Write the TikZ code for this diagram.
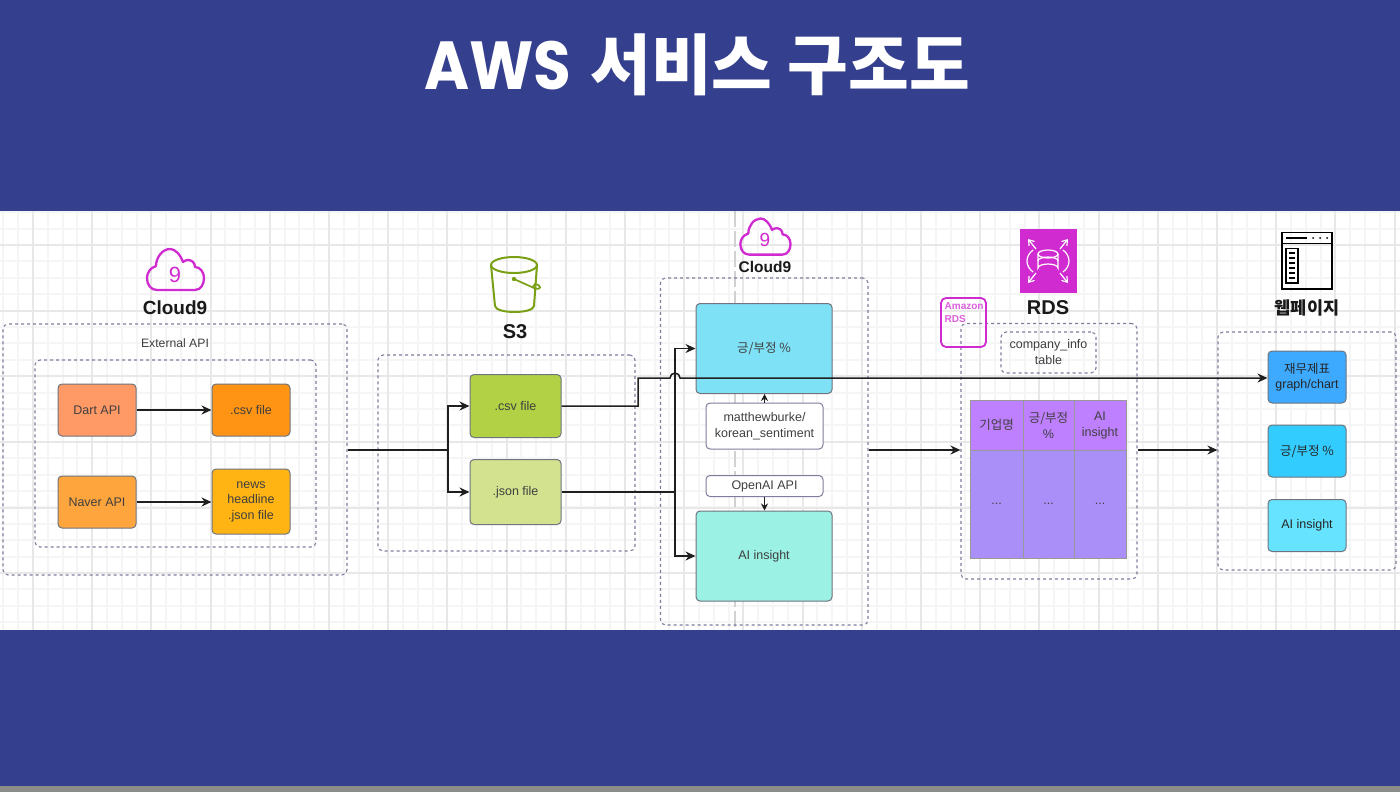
\documentclass[tikz,border=0pt]{standalone}
\usepackage{fontspec}
\setmainfont{Liberation Sans}
\newfontfamily\krfont{Noto Sans CJK KR}
\newfontfamily\headfont[FakeStretch=0.9]{Poppins}
\newfontfamily\headkr{Noto Sans CJK KR Black}
\usepackage{xcolor}
\definecolor{mband}{HTML}{343F8E}
\definecolor{mfoot}{HTML}{8C8C88}
\definecolor{mdash}{HTML}{7E7E9E}
\definecolor{medge}{HTML}{6F747E}
\definecolor{mtext}{HTML}{3F3F3F}
\definecolor{mpink}{HTML}{D02BD0}
\definecolor{mgreen}{HTML}{7AA116}
\definecolor{mhead}{RGB}{191,128,255}
\definecolor{mbody}{RGB}{171,143,248}
\usetikzlibrary{arrows.meta}
\tikzset{
    group/.style={draw=mdash, dashed, line width=1.1pt, rounded corners=5pt, inner sep=0pt},
    filebox/.style={draw=medge, line width=1pt, rounded corners=4pt, inner sep=0pt, align=center,
        text=mtext, font=\fontsize{12.5}{15.5}\selectfont},
    smallbox/.style={filebox, fill=white, draw=mdash},
    cell/.style={draw=black!40, line width=1pt, inner sep=0pt, align=center, text=mtext,
        font=\fontsize{12.5}{16}\selectfont},
    title/.style={text=black!90, font=\fontsize{19}{24}\selectfont\bfseries},
    flow/.style={draw=black!88, line width=1.5pt, -{Stealth[length=10pt,width=9pt]}},
    wire/.style={draw=black!88, line width=1.5pt},
    cloudicon/.pic={
        \draw[mpink, line width=2.3pt, line join=round] (-18,20) -- (20,20)
            .. controls (26,20) and (29,14) .. (29,8) .. controls (29,2) and (25,-3) .. (20,-3)
            .. controls (20,-8) and (16,-10) .. (13,-10) .. controls (11,-10) and (9,-9) .. (8,-8)
            .. controls (5,-16) and (0,-21) .. (-5,-21) .. controls (-13,-21) and (-19,-12) .. (-19,-4)
            .. controls (-25,-2) and (-28,3) .. (-28,8) .. controls (-28,15) and (-24,20) .. (-18,20) -- cycle;
    },
}
\begin{document}
\begin{tikzpicture}[x=1pt, y=-1pt]
            \useasboundingbox (0, 0) rectangle (1400, 792);

            % bands
            \fill[mband] (0, 0) rectangle (1400, 792);
            \fill[mfoot] (0, 786) rectangle (1400, 792);
            \fill[white] (0, 211) rectangle (1400, 630);
            \node[text=white, inner sep=0pt] (heading) at (697, 65) {\fontsize{68}{72}\selectfont{\headfont\bfseries AWS} \headkr\fontsize{66}{72}\selectfont 서비스 구조도};

            % grid
            \begin{scope}
                \clip (0, 211) rectangle (1400, 630);
                \foreach \i [evaluate=\i as \gx using {round(-11.4+14.8*\i)}] in {0,...,95}
                    \draw[black!4, line width=2pt] (\gx, 211) -- (\gx, 630);
                \foreach \i [evaluate=\i as \gy using {round(212.2+16.4*\i)}] in {0,...,26}
                    \draw[black!4, line width=2pt] (0, \gy) -- (1400, \gy);
                \foreach \i [evaluate=\i as \gx using {round(33+59.2*\i)}] in {0,...,23}
                    \draw[black!9, line width=2pt] (\gx, 211) -- (\gx, 630);
                \foreach \i [evaluate=\i as \gy using {round(245+65.7*\i)}] in {0,...,6}
                    \draw[black!9, line width=2pt] (0, \gy) -- (1400, \gy);
            \end{scope}
            \draw[black!18, line width=1.5pt, dash pattern=on 16pt off 4pt] (735, 211) -- (735, 630);

            % cloud9 column
            \pic at (175, 270) {cloudicon};
            \node[text=mpink, font=\fontsize{22}{24}\selectfont] (nineA) at (175, 275) {9};
            \node[title] (cloudA) at (175, 308) {Cloud9};
            \node[group, minimum width=344pt, minimum height=251pt] (extbox) at (175, 449.5) {};
            \node[group, minimum width=281pt, minimum height=187pt] (apibox) at (175.5, 453.5) {};
            \node[text=mtext, font=\fontsize{12.2}{15}\selectfont] (extlabel) at (175, 343) {External API};
            \node[filebox, fill={rgb,255:red,255;green,153;blue,102}, minimum width=78pt, minimum height=52pt] (dart) at (97, 410) {Dart API};
            \node[filebox, fill={rgb,255:red,255;green,148;blue,20}, minimum width=78pt, minimum height=52pt] (csvout) at (251, 410) {.csv file};
            \node[filebox, fill={rgb,255:red,255;green,165;blue,61}, minimum width=78pt, minimum height=52pt] (naver) at (97, 502) {Naver API};
            \node[filebox, fill={rgb,255:red,255;green,180;blue,20}, minimum width=78pt, minimum height=65pt] (newsout) at (251, 501.5) {news\\headline\\.json file};

            % s3 column
            \draw[mgreen, line width=2pt] (491, 265) arc[start angle=180, end angle=540, x radius=23, y radius=8];
            \draw[mgreen, line width=2pt] (491, 265) -- (495, 306) .. controls (496, 314) and (533, 314) .. (534, 306) -- (537, 265);
            \draw[mgreen, line width=1.7pt] (514, 279) -- (534, 288) .. controls (542, 291) and (542, 285) .. (535, 284) -- (532, 288);
            \fill[mgreen] (514, 279) circle[radius=2.2];
            \node[title, font=\fontsize{20}{24}\selectfont\bfseries] (bucket) at (515, 332) {S3};
            \node[group, minimum width=257pt, minimum height=196pt] (s3box) at (506.5, 453) {};
            \node[filebox, fill={rgb,255:red,178;green,209;blue,69}, minimum width=91pt, minimum height=63pt] (csvs3) at (515.5, 406) {.csv file};
            \node[filebox, fill={rgb,255:red,210;green,226;blue,143}, minimum width=91pt, minimum height=65pt] (jsons3) at (515.5, 492) {.json file};

            % model column
            \pic[scale=0.88] at (765, 237) {cloudicon};
            \node[text=mpink, font=\fontsize{19}{21}\selectfont] (nineB) at (765, 240) {9};
            \node[title, font=\fontsize{15.5}{18}\selectfont\bfseries] (cloudB) at (765, 267) {Cloud9};
            \node[group, minimum width=207.5pt, minimum height=347pt] (modelbox) at (764.25, 451.5) {};
            \node[filebox, fill={rgb,255:red,127;green,225;blue,245}, minimum width=136pt, minimum height=90pt] (sentbox) at (764, 348.5) {\krfont 긍/부정 \%};
            \node[filebox, fill={rgb,255:red,155;green,241;blue,228}, minimum width=136pt, minimum height=90pt] (insightbox) at (764, 556) {AI insight};
            \node[smallbox, minimum width=117pt, minimum height=46pt] (bertbox) at (764.5, 426) {matthewburke/\\korean\_sentiment};
            \node[smallbox, minimum width=117pt, minimum height=21pt] (openai) at (764.5, 486) {OpenAI API};

            % rds column
            \fill[mpink] (1020, 229) rectangle (1076.5, 293);
            \begin{scope}[white, line width=1.2pt]
                \draw (1038, 254) -- (1038, 268) arc[start angle=180, end angle=360, x radius=10, y radius=4] -- (1058, 254);
                \draw (1048, 254) ellipse[x radius=10, y radius=4];
                \draw (1038, 261) arc[start angle=180, end angle=360, x radius=10, y radius=4];
                \draw (1033, 250) .. controls (1025, 256) and (1025, 266) .. (1033, 272);
                \draw (1063, 250) .. controls (1071, 256) and (1071, 266) .. (1063, 272);
                \draw[-{Straight Barb[length=5pt,width=7pt]}] (1036, 249) -- (1028, 239);
                \draw[-{Straight Barb[length=5pt,width=7pt]}] (1060, 249) -- (1068, 239);
                \draw[-{Straight Barb[length=5pt,width=7pt]}] (1036, 273) -- (1028, 283);
                \draw[-{Straight Barb[length=5pt,width=7pt]}] (1060, 273) -- (1068, 283);
            \end{scope}
            \node[title, font=\fontsize{20}{24}\selectfont\bfseries] (rdsname) at (1048, 308) {RDS};
            \node[group, minimum width=176pt, minimum height=255.5pt] (rdsbox) at (1049, 451.25) {};
            \node[draw=mpink, line width=1.8pt, rounded corners=5pt, minimum width=45pt, minimum height=49pt, inner sep=0pt] (rdstag) at (963.5, 322.5) {};
            \node[anchor=north west, inner sep=0pt, align=left, text=mpink!75!white, font=\fontsize{10}{13.5}\selectfont\bfseries] (rdstext) at (944.5, 302) {Amazon\\RDS};
            \node[group, text=mtext, align=center, minimum width=95pt, minimum height=41pt, font=\fontsize{12.5}{16}\selectfont] (tablename) at (1048.5, 352.5) {company\_info\\table};
            \node[cell, fill=mhead, minimum width=53pt, minimum height=50pt] (headA) at (996.5, 425) {\krfont 기업명};
            \node[cell, fill=mhead, minimum width=51pt, minimum height=50pt] (headB) at (1048.5, 425) {\krfont 긍/부정\\\%};
            \node[cell, fill=mhead, minimum width=52pt, minimum height=50pt] (headC) at (1100, 425) {AI\\insight};
            \node[cell, fill=mbody, minimum width=53pt, minimum height=108pt] (bodyA) at (996.5, 504) {...};
            \node[cell, fill=mbody, minimum width=51pt, minimum height=108pt] (bodyB) at (1048.5, 504) {...};
            \node[cell, fill=mbody, minimum width=52pt, minimum height=108pt] (bodyC) at (1100, 504) {...};

            % page column
            \draw[black, line width=1.5pt] (1282, 232.5) rectangle (1332, 289);
            \draw[black, line width=1.5pt] (1282, 243.5) -- (1332, 243.5);
            \draw[black, line width=1.7pt] (1286, 238) -- (1307, 238);
            \foreach \x in {1313, 1320, 1327}
                \fill[black] (\x, 238) circle[radius=1];
            \draw[black, line width=1.4pt] (1286, 248.5) rectangle (1298, 283);
            \foreach \y in {253, 258, 263, 268, 273, 278}
                \draw[black, line width=1.2pt] (1289, \y) -- (1295, \y);
            \node[title, font=\krfont\fontsize{17.5}{22}\selectfont\bfseries] (pagename) at (1307, 308) {웹페이지};
            \node[group, minimum width=178pt, minimum height=238pt] (pagebox) at (1307, 451) {};
            \node[filebox, text=black!85, fill={rgb,255:red,61;green,169;blue,255}, minimum width=78pt, minimum height=52pt] (finbox) at (1307, 377) {{\krfont 재무제표}\\graph/chart};
            \node[filebox, text=black!85, fill={rgb,255:red,51;green,204;blue,255}, minimum width=78pt, minimum height=52pt] (sentpage) at (1307, 451) {\krfont 긍/부정 \%};
            \node[filebox, text=black!85, fill={rgb,255:red,102;green,227;blue,255}, minimum width=78pt, minimum height=52pt] (insightpage) at (1307, 525.5) {AI insight};

            % connectors
            \coordinate (split) at (448, 450);
            \coordinate (merge) at (675, 492);
            \coordinate (riseA) at (638, 406);
            \coordinate (riseB) at (638, 378);
            \coordinate (hopA) at (670, 378);
            \draw[flow] (dart) -- (csvout);
            \draw[flow] (naver.east) -- (naver.east -| newsout.west);
            \draw[wire] (extbox.east |- split) -- (split);
            \draw[flow] (split) |- (csvs3);
            \draw[flow] (split) |- (jsons3);
            \draw[wire] (jsons3.east |- merge) -- (merge);
            \draw[flow] (merge) |- (sentbox);
            \draw[flow] (merge) |- (insightbox);
            \draw[flow] (csvs3.east |- riseA) -- (riseA) -- (riseB) -- (hopA) arc[start angle=180, end angle=360, radius=5] -- (finbox.west |- riseB);
            \draw[flow, line width=1pt, -{Stealth[length=7pt,width=7pt]}] (bertbox) -- (sentbox.south -| bertbox);
            \draw[flow, line width=1pt, -{Stealth[length=7pt,width=7pt]}] (openai) -- (insightbox.north -| openai);
            \draw[flow] (modelbox.east |- split) -- (rdsbox.west |- split);
            \draw[flow] (rdsbox.east |- split) -- (pagebox.west |- split);

          \end{tikzpicture}
\end{document}
